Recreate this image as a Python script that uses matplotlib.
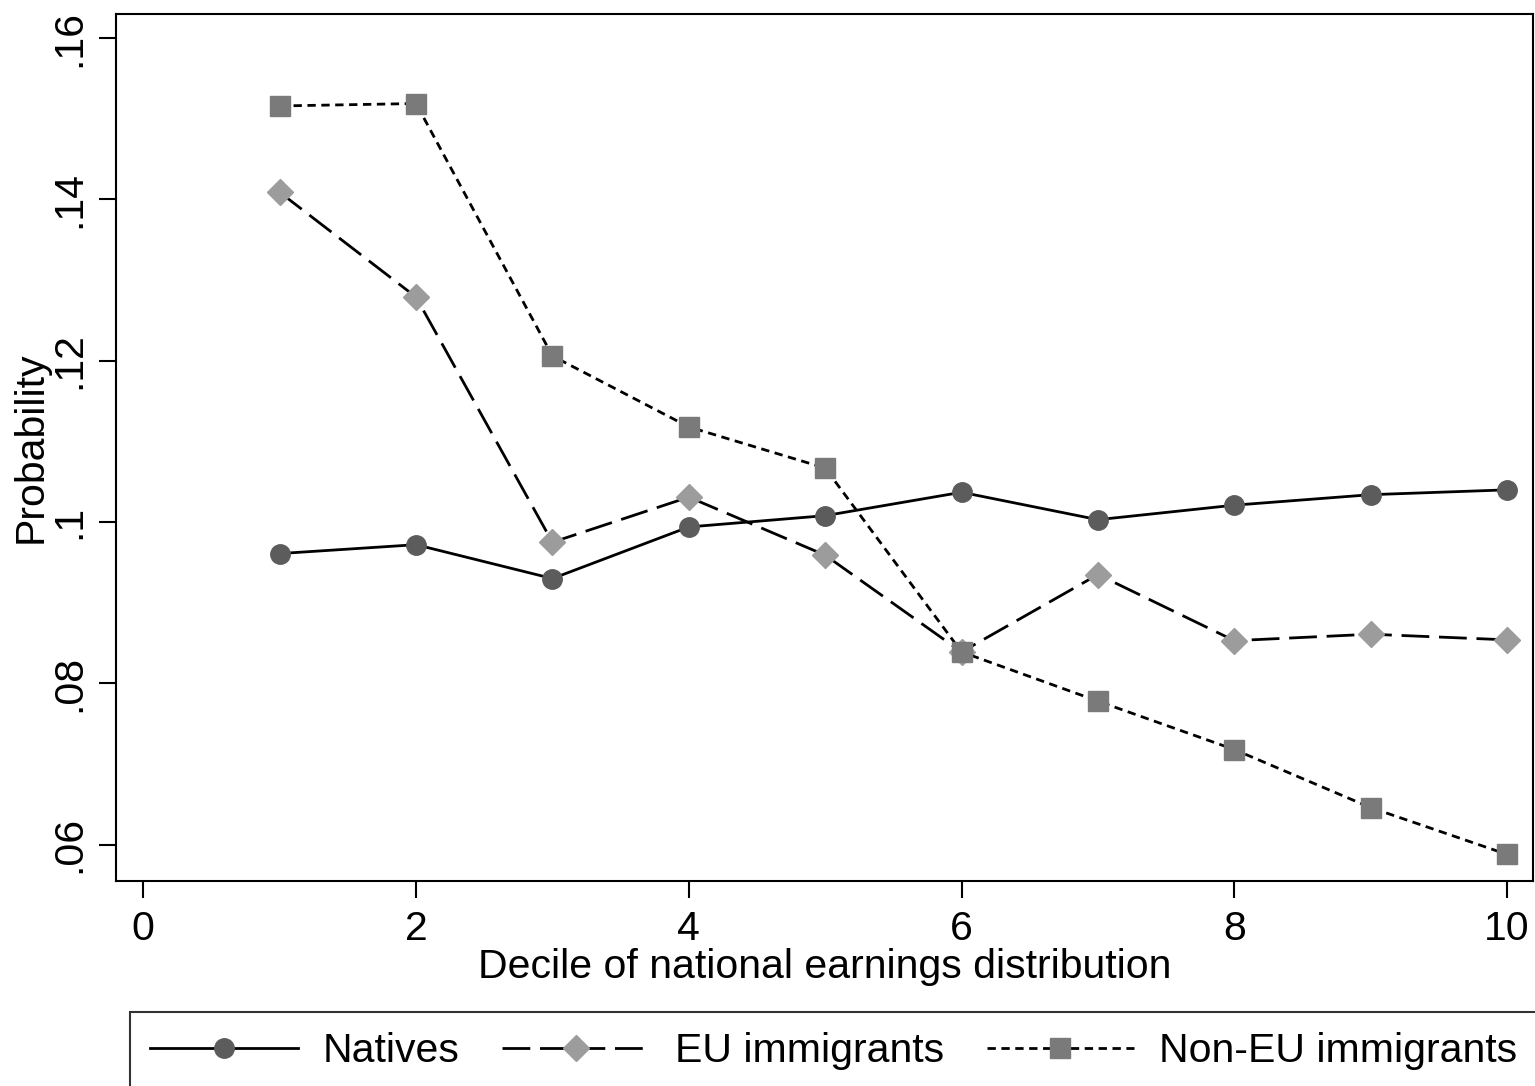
import matplotlib
matplotlib.use('Agg')
import matplotlib.pyplot as plt

plt.rcParams['font.family'] = ['Liberation Sans', 'DejaVu Sans']

# Data
deciles = [1, 2, 3, 4, 5, 6, 7, 8, 9, 10]
natives = [0.0961, 0.0972, 0.0930, 0.0994, 0.1008, 0.1037, 0.1003, 0.1021, 0.1034, 0.1040]
eu_immigrants = [0.1409, 0.1279, 0.0975, 0.1031, 0.0959, 0.0839, 0.0935, 0.0853, 0.0861, 0.0854]
non_eu_immigrants = [0.1516, 0.1519, 0.1206, 0.1118, 0.1067, 0.0839, 0.0778, 0.0718, 0.0646, 0.0588]

x_ticks = [0, 2, 4, 6, 8, 10]
y_ticks = [0.06, 0.08, 0.10, 0.12, 0.14, 0.16]
y_tick_labels = ['.06', '.08', '.1', '.12', '.14', '.16']

FONT_SIZE = 29.5
W, H = 1535, 1086

fig = plt.figure(figsize=(W / 100, H / 100), dpi=100)
ax = fig.add_axes([116 / W, 1 - 881 / H, (1533 - 116) / W, (881 - 14) / H])

ax.plot(deciles, natives, color='black', lw=2, marker='o', markersize=14,
        markerfacecolor='#5c5c5c', markeredgecolor='#5c5c5c', label='Natives')
ax.plot(deciles, eu_immigrants, color='black', lw=2, dashes=(10, 3.5), marker='D', markersize=13,
        markerfacecolor='#9c9c9c', markeredgecolor='#9c9c9c', label='EU immigrants')
ax.plot(deciles, non_eu_immigrants, color='black', lw=2, dashes=(3, 2), marker='s', markersize=14,
        markerfacecolor='#7a7a7a', markeredgecolor='#7a7a7a', label='Non-EU immigrants')

ax.set_xlim(-0.2, 10.19)
ax.set_ylim(0.0555, 0.163)
ax.set_xticks(x_ticks)
ax.set_xticklabels([str(t) for t in x_ticks])
ax.set_yticks(y_ticks)
ax.set_yticklabels(y_tick_labels, rotation=90, va='center')

ax.tick_params(direction='out', length=12, width=1.5, labelsize=FONT_SIZE)
ax.tick_params(axis='x', pad=9)
ax.tick_params(axis='y', pad=8)
for spine in ax.spines.values():
    spine.set_linewidth(1.5)

ax.set_xlabel('Decile of national earnings distribution', fontsize=FONT_SIZE, labelpad=0)
ax.set_ylabel('Probability', fontsize=FONT_SIZE)
ax.yaxis.set_label_coords(-0.047, 0.5)

leg = fig.legend(loc='upper left', bbox_to_anchor=(130 / W, 1 - 1012 / H),
                 ncol=3, fontsize=FONT_SIZE, frameon=True, fancybox=False,
                 edgecolor='black', handlelength=3.6, handletextpad=0.6, columnspacing=1.05,
                 borderaxespad=0, borderpad=0.5, numpoints=1)
leg.get_frame().set_linewidth(1.5)

fig.savefig('out.png', dpi=100)
